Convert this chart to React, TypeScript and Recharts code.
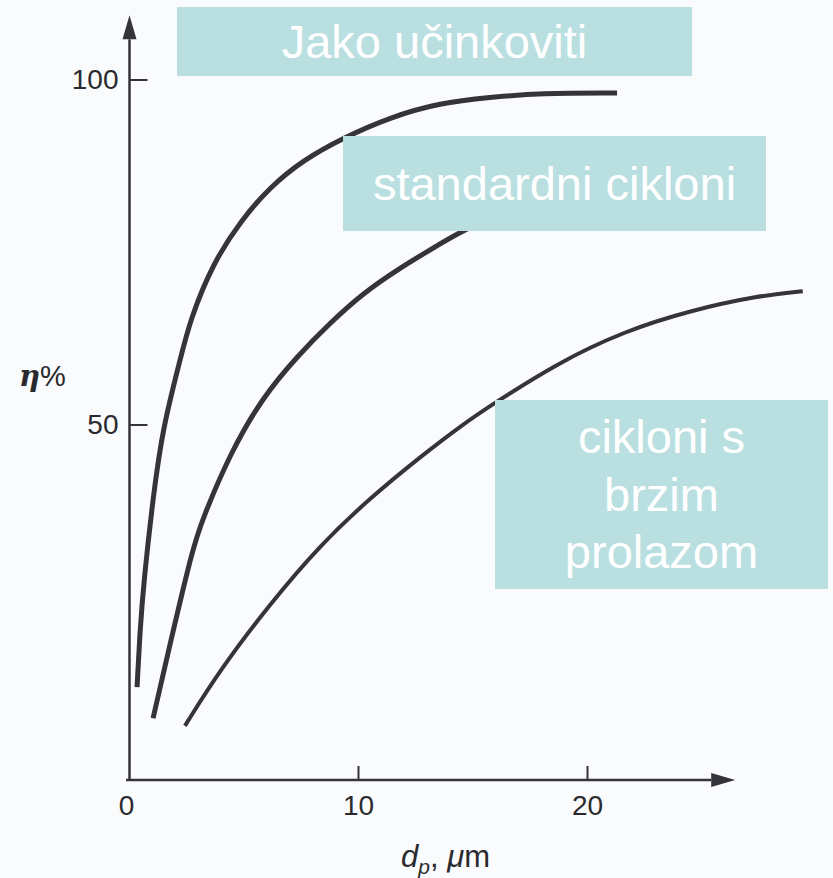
import { LineChart, Line, XAxis, YAxis, ReferenceLine } from 'recharts'

// particle diameter dp (µm) and collection efficiency η (%)
const jakoDp = [0.33, 0.46, 0.63, 1.03, 1.46, 2.21, 2.64, 3.65, 4.88, 6.14, 7.58, 9.32, 11.37, 13.56, 15.74, 17.92, 21.29]
const jakoEta = [12.0, 20.3, 27.5, 39.6, 49.7, 59.4, 65.2, 73.5, 79.7, 84.5, 88.4, 91.6, 94.6, 96.7, 97.5, 98.1, 98.1]

const standardDp = [1.03, 1.64, 2.77, 3.17, 4.39, 5.83, 7.31, 8.76, 10.2, 11.69, 13.13, 14.45, 16.0]
const standardEta = [7.5, 16.4, 32.3, 36.2, 45.9, 54.1, 59.9, 64.8, 69.1, 72.5, 75.4, 78.0, 80.4]

const brziDp = [2.42, 3.95, 6.14, 8.32, 10.5, 12.7, 14.6, 15.9, 18.7, 21.6, 24.5, 27.4, 29.4]
const brziEta = [6.4, 14.5, 24.1, 32.6, 39.4, 45.4, 50.2, 53.1, 59.0, 63.6, 66.6, 68.7, 69.4]

const xTicks = [0, 10, 20]
const yTicks = [50, 100]

const boxJako = 'Jako učinkoviti'
const boxStandard = 'standardni cikloni'
const boxBrzi = ['cikloni s', 'brzim', 'prolazom']

const INK = '#35343a'
const BOX = '#b9dfe1'
const FONT = '"Liberation Sans", Arial, Helvetica, sans-serif'

const toPoints = (dp: number[], eta: number[]) => dp.map((d, i) => ({ dp: d, eta: eta[i] }))

function YTick({ x, y, payload }: any) {
  return (
    <g>
      <line x1={x} y1={y} x2={x + 18} y2={y} stroke={INK} strokeWidth={2} />
      <text x={x - 11} y={y + 9} textAnchor="end" fontSize={28} fill="#2a2a2e" fontFamily={FONT}>
        {payload.value}
      </text>
    </g>
  )
}

function XTick({ x, y, payload }: any) {
  return (
    <g>
      {payload.value !== 0 && <line x1={x} y1={y} x2={x} y2={y - 14} stroke={INK} strokeWidth={2} />}
      <text x={x - (payload.value === 0 ? 3 : 0)} y={y + 35} textAnchor="middle" fontSize={28} fill="#2a2a2e" fontFamily={FONT}>
        {payload.value}
      </text>
    </g>
  )
}

// axis line with a filled arrow head at its end
function Arrow(props: any) {
  const { x1, y1, x2, y2 } = props
  const len = Math.hypot(x2 - x1, y2 - y1) || 1
  const ux = (x2 - x1) / len
  const uy = (y2 - y1) / len
  const bx = x2 - ux * 24
  const by = y2 - uy * 24
  const px = -uy * 7
  const py = ux * 7
  return (
    <g>
      <line x1={x1} y1={y1} x2={bx} y2={by} stroke={INK} strokeWidth={2.5} />
      <polygon points={`${x2},${y2} ${bx + px},${by + py} ${bx - px},${by - py}`} fill={INK} />
    </g>
  )
}

const boxStyle = {
  position: 'absolute' as const,
  background: BOX,
  color: '#ffffff',
  fontFamily: FONT,
  fontSize: 47,
  display: 'flex',
  flexDirection: 'column' as const,
  alignItems: 'center',
  justifyContent: 'center',
  textAlign: 'center' as const,
  whiteSpace: 'nowrap' as const,
}

export default function App() {
  return (
    <div style={{ position: 'absolute', left: 0, top: 0, width: 833, height: 878, background: '#f9fbfc', overflow: 'hidden' }}>
      <LineChart width={833} height={878} margin={{ top: 11, right: 16.5, bottom: 38, left: 69.5 }}>
        <XAxis
          dataKey="dp"
          type="number"
          domain={[0, 30]}
          ticks={xTicks}
          interval={0}
          height={60}
          axisLine={false}
          tickLine={false}
          tickSize={0}
          tickMargin={0}
          tick={<XTick />}
          allowDataOverflow
        />
        <YAxis
          type="number"
          domain={[-1.45, 110]}
          ticks={yTicks}
          interval={0}
          width={60}
          axisLine={false}
          tickLine={false}
          tickSize={0}
          tickMargin={0}
          tick={<YTick />}
          allowDataOverflow
        />
        <ReferenceLine
          segment={[{ x: 0, y: -1.45 }, { x: 0, y: 109.4 }]}
          ifOverflow="visible"
          shape={<Arrow />}
        />
        <ReferenceLine
          segment={[{ x: -0.15, y: -1.45 }, { x: 26.45, y: -1.45 }]}
          ifOverflow="visible"
          shape={<Arrow />}
        />
        <Line data={toPoints(jakoDp, jakoEta)} dataKey="eta" type="basis" stroke={INK} strokeWidth={5} dot={false} activeDot={false} isAnimationActive={false} />
        <Line data={toPoints(standardDp, standardEta)} dataKey="eta" type="basis" stroke={INK} strokeWidth={5} dot={false} activeDot={false} isAnimationActive={false} />
        <Line data={toPoints(brziDp, brziEta)} dataKey="eta" type="basis" stroke={INK} strokeWidth={4} dot={false} activeDot={false} isAnimationActive={false} />
        <text x={19} y={386} fontSize={29} fill="#2a2a2e" fontFamily={FONT}>
          <tspan fontFamily='"DejaVu Serif", serif' fontStyle="italic" fontWeight="bold">η</tspan>
          <tspan>%</tspan>
        </text>
        <text x={401} y={867} fontSize={31} fill="#2a2a2e" fontFamily={FONT}>
          <tspan fontStyle="italic">d</tspan>
          <tspan fontSize={21} dy={7} fontStyle="italic">p</tspan>
          <tspan dy={-7}>, </tspan>
          <tspan fontStyle="italic">μ</tspan>
          <tspan>m</tspan>
        </text>
      </LineChart>

      <div style={{ ...boxStyle, left: 177, top: 7, width: 515, height: 69 }}>{boxJako}</div>
      <div style={{ ...boxStyle, left: 343, top: 136, width: 423, height: 95 }}>{boxStandard}</div>
      <div style={{ ...boxStyle, left: 495, top: 400, width: 333, height: 189, lineHeight: '57.5px' }}>
        {boxBrzi.map((t) => (
          <div key={t}>{t}</div>
        ))}
      </div>
    </div>
  )
}
